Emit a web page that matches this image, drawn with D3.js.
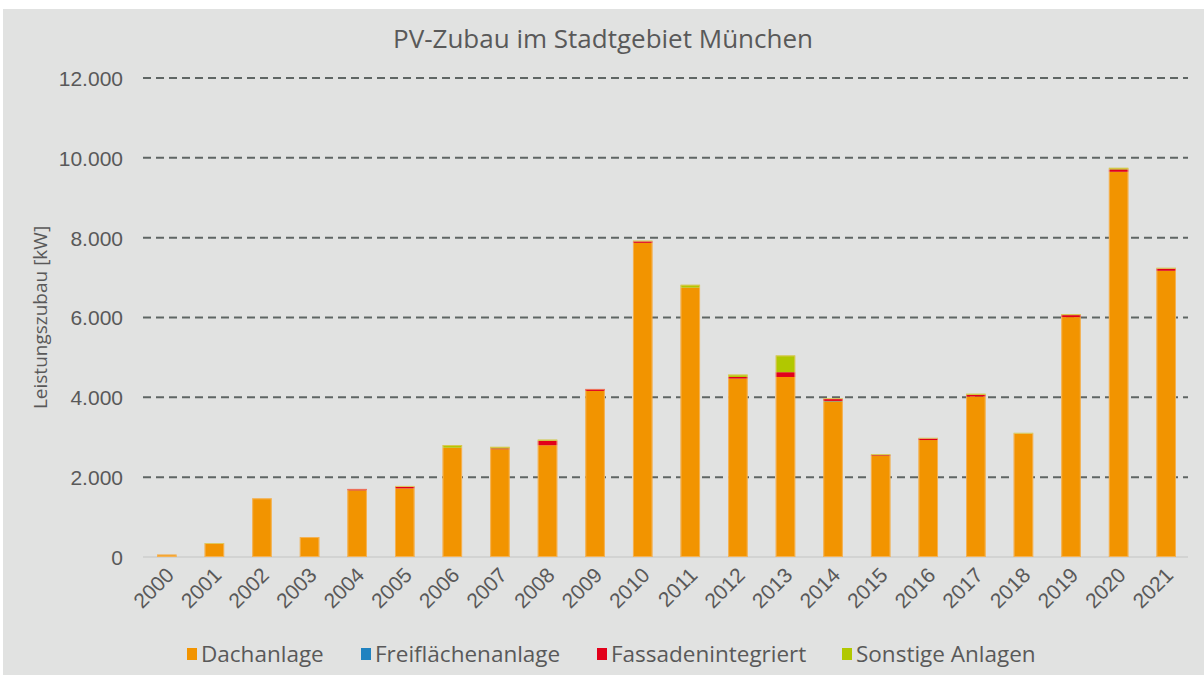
<!DOCTYPE html>
<html>
<head>
<meta charset="utf-8">
<script src="https://cdn.jsdelivr.net/npm/d3@7"></script>
<style>
  body { margin: 0; background: #ffffff; }
  svg { display: block; font-family: 'Open Sans', 'Noto Sans', sans-serif; }
</style>
</head>
<body>
<div id="chart"></div>
<script>
const width = 1204;
const height = 675;
const marginLeft = 143;
const marginRight = 14;
const marginTop = 78;
const marginBottom = 118;

const years = ['2000', '2001', '2002', '2003', '2004', '2005', '2006', '2007', '2008', '2009', '2010',
  '2011', '2012', '2013', '2014', '2015', '2016', '2017', '2018', '2019', '2020', '2021'];

const seriesNames = ['Dachanlage', 'Freiflächenanlage', 'Fassadenintegriert', 'Sonstige Anlagen'];
const seriesColors = ['#f29400', '#1f82c0', '#e2001a', '#b1c800'];

// kW per year
const dachanlage = [60, 330, 1470, 500, 1670, 1720, 2740, 2700, 2800, 4160, 7870,
  6750, 4470, 4510, 3900, 2530, 2930, 4020, 3090, 6010, 9650, 7170];
const freiflaechen = [0, 0, 0, 0, 0, 0, 0, 0, 0, 0, 0,
  0, 0, 0, 10, 0, 0, 0, 0, 0, 0, 0];
const fassade = [0, 0, 0, 0, 35, 40, 0, 20, 110, 50, 40,
  0, 40, 120, 50, 20, 40, 40, 0, 50, 60, 55];
const sonstige = [0, 20, 0, 0, 0, 20, 65, 40, 30, 0, 15,
  70, 60, 420, 15, 25, 15, 30, 20, 25, 40, 20];

const yTicks = [0, 2000, 4000, 6000, 8000, 10000, 12000];

const de = d3.formatLocale({ decimal: ',', thousands: '.', grouping: [3], currency: ['', ' €'] });
const fmt = de.format(',');

const table = years.map((y, i) => ({
  year: y,
  'Dachanlage': dachanlage[i],
  'Freiflächenanlage': freiflaechen[i],
  'Fassadenintegriert': fassade[i],
  'Sonstige Anlagen': sonstige[i],
}));

const stacked = d3.stack().keys(seriesNames)(table);

const svg = d3
  .select('#chart')
  .append('svg')
  .attr('width', width)
  .attr('height', height);

// background panel
svg.append('rect')
  .attr('x', 3).attr('y', 9)
  .attr('width', width - 3).attr('height', height - 9)
  .attr('fill', '#e1e2e1');

const xScale = d3
  .scaleBand()
  .domain(years)
  .range([marginLeft, 1190])
  .paddingInner(0.59)
  .paddingOuter(0.295);

const yScale = d3
  .scaleLinear()
  .domain([0, 12000])
  .range([height - marginBottom, marginTop]);

// grid lines
svg.append('g')
  .selectAll('line')
  .data(yTicks.filter((d) => d > 0))
  .enter()
  .append('line')
  .attr('x1', marginLeft)
  .attr('x2', width - 16)
  .attr('y1', (d) => yScale(d))
  .attr('y2', (d) => yScale(d))
  .attr('stroke', '#5f6664')
  .attr('stroke-width', 2)
  .attr('stroke-dasharray', '8,5');

// baseline
svg.append('line')
  .attr('x1', marginLeft)
  .attr('x2', width - 16)
  .attr('y1', yScale(0))
  .attr('y2', yScale(0))
  .attr('stroke', '#d2d3d2')
  .attr('stroke-width', 2);

// y axis
const yAxis = d3.axisLeft(yScale).tickValues(yTicks).tickFormat(fmt).tickSize(0).tickPadding(0);
svg.append('g')
  .attr('class', 'y-axis')
  .attr('transform', `translate(123, 0)`)
  .call(yAxis)
  .call((g) => g.select('.domain').remove())
  .selectAll('text')
  .attr('fill', '#595959')
  .attr('font-size', 21)
  .attr('dy', '0.35em');

// bars
svg.append('g')
  .selectAll('g')
  .data(stacked)
  .enter()
  .append('g')
  .attr('fill', (d, i) => seriesColors[i])
  .selectAll('rect')
  .data((d) => d.filter((p) => p[1] - p[0] > 0))
  .enter()
  .append('rect')
  .attr('x', (d) => xScale(d.data.year))
  .attr('y', (d) => yScale(d[1]))
  .attr('width', xScale.bandwidth())
  .attr('height', (d) => yScale(d[0]) - yScale(d[1]));

// light edge on each bar
svg.append('g')
  .selectAll('rect')
  .data(table)
  .enter()
  .append('rect')
  .attr('x', (d) => xScale(d.year) + 0.5)
  .attr('y', (d) => yScale(d3.sum(seriesNames, (k) => d[k])) + 0.5)
  .attr('width', xScale.bandwidth() - 1)
  .attr('height', (d) => yScale(0) - yScale(d3.sum(seriesNames, (k) => d[k])) - 1)
  .attr('fill', 'none')
  .attr('stroke', '#f7c78a')
  .attr('stroke-opacity', 0.6)
  .attr('stroke-width', 1);

// x axis
const xAxis = d3.axisBottom(xScale).tickSize(0).tickPadding(0);
svg.append('g')
  .attr('class', 'x-axis')
  .attr('transform', `translate(0, ${yScale(0) + 9})`)
  .call(xAxis)
  .call((g) => g.select('.domain').remove())
  .selectAll('text')
  .attr('fill', '#595959')
  .attr('font-size', 21)
  .attr('text-anchor', 'end')
  .attr('dy', '0.7em')
  .attr('transform', 'translate(-2, 0) rotate(-45)');

// title
svg.append('text')
  .attr('x', 603)
  .attr('y', 48)
  .attr('text-anchor', 'middle')
  .attr('fill', '#595959')
  .attr('font-size', 26)
  .text('PV-Zubau im Stadtgebiet München');

// y axis title
svg.append('text')
  .attr('transform', `translate(47, ${yScale(6000)}) rotate(-90)`)
  .attr('text-anchor', 'middle')
  .attr('fill', '#595959')
  .attr('font-size', 19)
  .text('Leistungszubau [kW]');

// legend
const legendX = [187, 361, 597, 842];
const legend = svg.append('g')
  .selectAll('g')
  .data(seriesNames)
  .enter()
  .append('g')
  .attr('transform', (d, i) => `translate(${legendX[i]}, 654)`);

legend.append('rect')
  .attr('x', 0)
  .attr('y', -6)
  .attr('width', 10)
  .attr('height', 12)
  .attr('fill', (d, i) => seriesColors[i]);

legend.append('text')
  .attr('x', 14)
  .attr('y', 0)
  .attr('dy', '0.35em')
  .attr('fill', '#595959')
  .attr('font-size', 22.5)
  .text((d) => d);
</script>
</body>
</html>
